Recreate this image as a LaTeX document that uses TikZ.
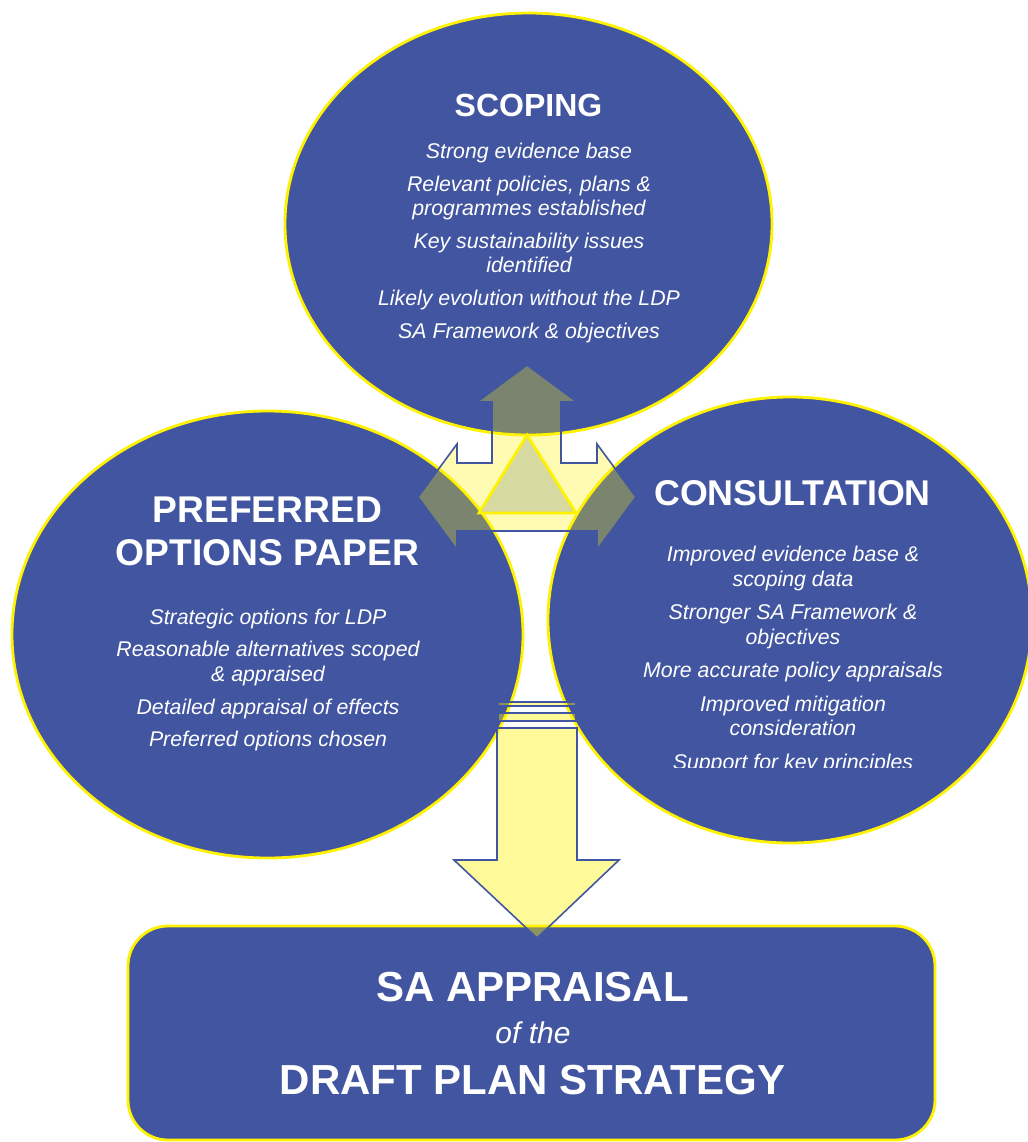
\documentclass[tikz,border=0pt]{standalone}
\usepackage{fontspec}
\setmainfont{Liberation Sans}
\usetikzlibrary{shapes,positioning}
\definecolor{sablue}{RGB}{66,85,160}
\definecolor{khaki}{RGB}{214,217,160}

\begin{document}
\begin{tikzpicture}[x=0.5pt,y=-0.5pt,
    blob/.style={ellipse,fill=sablue,draw=yellow,line width=1.4pt,inner sep=0pt},
    head/.style={text=white,align=center,inner sep=0pt},
    items/.style={text=white,align=center,inner sep=0pt,
        font=\itshape\fontsize{10.65}{12.2}\selectfont},
    blockarrow/.style={fill=yellow,fill opacity=0.3,draw=sablue,line width=0.8pt}]
    \useasboundingbox (0,0) rectangle (1028,1142);
    \node[blob,minimum width=243.5pt,minimum height=211pt] (scoping) at (528.5,224) {};
    \node[blob,minimum width=255.5pt,minimum height=223.5pt] (prefer) at (267.5,634.5) {};
    \node[blob,minimum width=242pt,minimum height=223pt] (consult) at (790,620) {};
    \node[rectangle,rounded corners=20pt,fill=sablue,draw=yellow,line width=1.4pt,
        minimum width=403.5pt,minimum height=107pt] (draft) at (531.5,1033) {};
    \draw[blockarrow] (527,365) -- (577,402) -- (561,402) -- (561,463) -- (597,463)
        -- (597,444) -- (636,497) -- (597,550) -- (597,531) -- (457,531) -- (457,550)
        -- (418,497) -- (457,444) -- (457,463) -- (492,463) -- (492,402) -- (477,402) -- cycle;
    \draw[fill=khaki,draw=yellow,line width=1.4pt] (527,435) -- (576,513) -- (479,513) -- cycle;
    \draw[blockarrow,fill opacity=0.4] (498,702) rectangle (576,706);
    \draw[blockarrow,fill opacity=0.4] (498,713) rectangle (576,721);
    \draw[blockarrow,fill opacity=0.4] (497,728) -- (577,728) -- (577,860) -- (619,860)
        -- (537,938) -- (454,860) -- (497,860) -- cycle;
    \node[head,font=\bfseries\fontsize{16}{19}\selectfont] (scopehead) at (528.5,105) {SCOPING};
    \node[items] (scopeitems) at (529,243) {Strong evidence base\\[4.2pt]
        Relevant policies, plans \&\\ programmes established\\[4.2pt]
        Key sustainability issues\\ identified\\[4.2pt]
        Likely evolution without the LDP\\[4.2pt]
        SA Framework \& objectives};
    \node[head,font=\bfseries\fontsize{18.6}{21.5}\selectfont] (preferhead) at (267.5,531.5)
        {PREFERRED\\OPTIONS PAPER};
    \node[items] (preferitems) at (268,680) {Strategic options for LDP\\[4.2pt]
        Reasonable alternatives scoped\\ \& appraised\\[4.2pt]
        Detailed appraisal of effects\\[4.2pt]
        Preferred options chosen};
    \node[head,font=\bfseries\fontsize{17.9}{21}\selectfont] (consulthead) at (792.5,493) {CONSULTATION};
    \begin{scope}
        \clip (548,380) rectangle (1028,767);
        \node[items] (consultitems) at (793,660) {Improved evidence base \&\\ scoping data\\[4.6pt]
            Stronger SA Framework \&\\ objectives\\[4.6pt]
            More accurate policy appraisals\\[4.6pt]
            Improved mitigation\\ consideration\\[4.6pt]
            Support for key principles};
    \end{scope}
    \node[head,font=\bfseries\fontsize{21}{25}\selectfont] (drafttop) at (532.5,987) {SA APPRAISAL};
    \node[head,font=\itshape\fontsize{15}{18}\selectfont] (draftmid) at (533,1033) {of the};
    \node[head,font=\bfseries\fontsize{21}{25}\selectfont] (draftbot) at (532.5,1080) {DRAFT PLAN STRATEGY};
\end{tikzpicture}
\end{document}
